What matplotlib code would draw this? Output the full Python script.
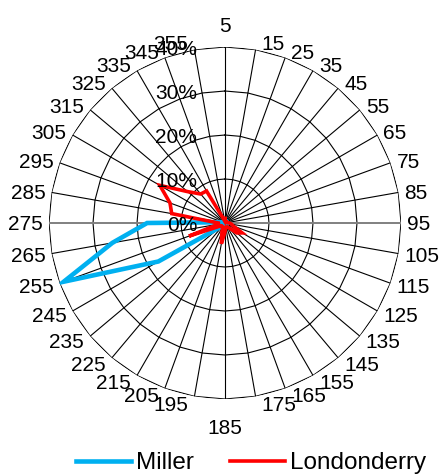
import numpy as np
import matplotlib
matplotlib.use("Agg")
import matplotlib.pyplot as plt
from matplotlib.transforms import offset_copy

plt.rcParams['font.family'] = ['Liberation Sans', 'DejaVu Sans']

categories = [str(v) for v in range(5, 360, 10)]
miller = [0.5, 0.5, 0.5, 0.5, 0.5, 0.5, 0.5, 0.5, 0.5, 0.5, 0.5, 0.5,
          0.5, 0.5, 0.5, 0.5, 0.5, 0.5, 0.5, 0.5, 0.5, 0.5, 0.5, 1.5,
          17.5, 39.0, 26.0, 17.7, 1.0, 0.5, 0.5, 0.5, 0.5, 0.5, 0.5, 0.5]
londonderry = [1.0, 0.5, 0.5, 0.5, 0.5, 0.5, 0.5, 0.5, 0.5, 1.0, 1.5, 2.0,
               4.5, 3.5, 1.5, 1.0, 1.0, 1.0, 2.0, 4.8, 2.0, 1.0, 1.0, 1.0,
               1.5, 8.7, 1.5, 1.5, 12.3, 13.3, 17.1, 11.1, 8.6, 8.4, 1.0, 0.5]
r_ticks = [0, 10, 20, 30, 40]
r_labels = ['0%', '10%', '20%', '30%', '40%']

W, H = 445, 475
fig = plt.figure(figsize=(W / 100, H / 100), dpi=100)
cx, cy, R = 225, 223, 176
ax = fig.add_axes([(cx - R) / W, (H - cy - R) / H, 2 * R / W, 2 * R / H],
                  projection='polar')
ax.set_theta_zero_location('N')
ax.set_theta_direction(-1)
ax.set_ylim(0, 40)
ax.set_xticks([])
ax.set_yticks([])
ax.grid(False)
ax.spines['polar'].set_visible(False)

n = len(categories)
theta = np.arange(n) * 2 * np.pi / n
theta_c = np.append(theta, theta[0])

# polygon gridlines
for v in r_ticks[1:]:
    ax.plot(theta_c, [v] * (n + 1), color='black', lw=0.8, zorder=1)
# spokes
for i, t in enumerate(theta):
    if i in (9, 27):
        ax.plot([t, t], [0, 40], color='#808080', lw=1.4, zorder=1.5)
    else:
        ax.plot([t, t], [0, 40], color='black', lw=0.8, zorder=1)

l1, = ax.plot(theta_c, miller + [miller[0]], color='#00B0F0', lw=3.3,
              solid_joinstyle='miter', zorder=3, label='Miller')
l2, = ax.plot(theta_c, londonderry + [londonderry[0]], color='#FF0000', lw=2.6,
              solid_joinstyle='miter', zorder=4, label='Londonderry')

fs = 15
# category labels
for t, lab in zip(theta, categories):
    deg = np.degrees(t) % 360
    c = np.cos(t)
    if abs(deg) < 1e-6:
        ha, dx, dy = 'center', 0, 22
    elif abs(deg - 180) < 1e-6:
        ha, dx, dy = 'center', 0, -27
    elif deg < 180:
        ha, dx, dy = 'left', 6, 7 * c
    else:
        ha, dx, dy = 'right', -6, 7 * c
    tr = offset_copy(ax.transData, fig=fig, x=dx, y=dy, units='dots')
    ax.text(t, 40, lab, ha=ha, va='center_baseline', fontsize=fs,
            transform=tr, zorder=5, clip_on=False)

# radial labels
for v, lab in zip(r_ticks, r_labels):
    tr = offset_copy(ax.transData, fig=fig, x=-28, y=-1, units='dots')
    ax.text(0, v, lab, ha='right', va='center_baseline', fontsize=fs,
            transform=tr, zorder=5, clip_on=False)

fig.legend(handles=[l1, l2], labels=['Miller', 'Londonderry'], loc='center',
           bbox_to_anchor=(251 / W, 1 - 463 / H), ncol=2, frameon=False,
           fontsize=17.5, handlelength=2.25, handletextpad=0.2,
           columnspacing=1.5)

fig.savefig('out.png', dpi=100)
